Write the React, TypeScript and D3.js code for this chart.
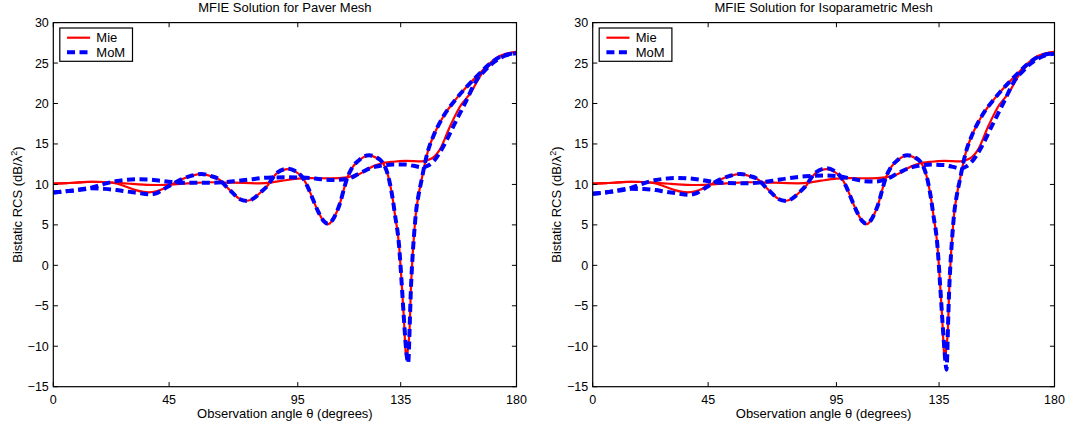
import React from 'react';
import * as d3 from 'd3';

type Pt = [number, number];

const THETA_TICKS = [0, 45, 95, 135, 180];
const RCS_TICKS = [-15, -10, -5, 0, 5, 10, 15, 20, 25, 30];
const PANEL_TITLES = ['MFIE Solution for Paver Mesh', 'MFIE Solution for Isoparametric Mesh'];
const SERIES_NAMES = ['Mie', 'MoM'];
const X_LABEL = 'Observation angle \u03b8 (degrees)';

// Mie (exact) solution — identical in both panels
const mieOsc: Pt[] = [
  [0, 10.1], [5, 10.15], [10, 10.25], [15, 10.33], [20, 10.3], [24, 10.15], [28, 9.75], [32, 9.3], [35, 9.08], [37, 9.02],
  [40, 9.15], [43, 9.5], [46.6, 10.1], [50, 10.65], [54, 11.1], [57.5, 11.28], [61, 11.05], [64.8, 10.54], [67, 9.8],
  [69.9, 8.9], [72, 8.3], [75.5, 7.98], [78, 8.3], [80.5, 9.0], [82.9, 9.71], [86.8, 11.37], [91.3, 11.9], [94, 11.6],
  [97.1, 10.75], [99, 9.6], [101, 8.07], [103, 6.6], [105, 5.5], [106.8, 5.1], [108.5, 5.6], [110, 6.5], [111.4, 7.66],
  [113, 9.5], [114, 10.6], [116, 12.0], [119, 13.0], [121, 13.45], [122.7, 13.55], [125.5, 13.3], [128.2, 12.6],
  [130, 11.2], [130.8, 10.13], [132, 8.0], [132.7, 6.42], [134.4, 2.3], [135.3, -1.82], [136.2, -6.35], [137.0, -11.0],
  [137.3, -11.5], [137.9, -10.0], [138.45, -8.0], [138.9, -3.5], [139.5, 0.5], [140.2, 3.8], [140.9, 6.42], [142, 8.8],
  [143.1, 10.54], [144.4, 12.6], [145.7, 14.25], [147.6, 15.9], [151.5, 18.37], [156.7, 20.63], [161.9, 22.5],
  [165.7, 23.73], [169.6, 24.97], [173.5, 25.87], [176.5, 26.2], [180, 26.4],
];
const mieSmooth: Pt[] = [
  [0, 10.1], [5, 10.15], [10, 10.25], [15, 10.33], [20, 10.3], [25, 10.2], [30, 10.08], [35, 9.98], [40, 9.93], [45, 9.98],
  [50, 10.08], [55, 10.2], [61, 10.27], [70, 10.22], [80, 10.13], [85, 10.25], [89, 10.46], [95, 10.72], [100, 10.78],
  [108, 10.75], [114, 10.87], [119, 11.3], [124, 12.2], [127, 12.55], [132, 12.8], [137, 12.9], [143, 12.85], [147, 13.2],
  [150.2, 14.3], [154.1, 17.13], [158, 19.6], [162.5, 21.46], [165.7, 23.3], [169.6, 24.76], [173, 25.7], [176.5, 26.15],
  [180, 26.4],
];

// MoM, paver mesh
const paverMomOsc: Pt[] = [
  [0, 9.0], [7, 9.22], [14, 9.52], [20, 9.45], [24.6, 9.31], [28, 9.15], [32.4, 8.97], [37.6, 8.77], [40, 8.9], [42.7, 9.39],
  [46.6, 10.1], [50, 10.65], [54, 11.1], [57.5, 11.3], [61, 11.05], [64.8, 10.54], [67, 9.8], [69.9, 8.9], [72, 8.25],
  [75.5, 7.95], [78, 8.3], [80.5, 9.0], [82.9, 9.71], [86.8, 11.4], [91.3, 11.95], [94, 11.65], [97.1, 10.75], [99, 9.6],
  [101, 8.07], [103, 6.6], [105, 5.5], [106.8, 5.15], [108.5, 5.6], [110, 6.5], [111.4, 7.66], [113, 9.5], [114, 10.6],
  [116, 12.0], [119, 13.05], [121, 13.5], [122.7, 13.6], [125.5, 13.35], [128.2, 12.6], [130, 11.2], [130.8, 10.13],
  [132, 8.0], [132.7, 6.42], [134.4, 2.3], [135.3, -1.82], [136.2, -6.35], [137.0, -10.0], [137.5, -11.5], [137.9, -12.1],
  [138.2, -10.5], [138.45, -8.0], [138.9, -3.5], [139.5, 0.5], [140.2, 3.8], [140.9, 6.42], [142, 8.8], [143.1, 10.54],
  [144.4, 12.6], [145.7, 14.25], [147.6, 15.9], [151.5, 18.37], [156.7, 20.63], [161.9, 22.5], [165.7, 23.73],
  [169.6, 24.9], [173.5, 25.75], [176.5, 26.05], [180, 26.25],
];
const paverMomSmooth: Pt[] = [
  [0, 9.0], [7, 9.22], [14, 9.52], [19, 10.0], [24.6, 10.42], [28, 10.55], [32.4, 10.63], [37, 10.6], [41.4, 10.46],
  [46, 10.3], [50.5, 10.21], [57, 10.22], [61, 10.21], [70, 10.38], [76, 10.6], [82.9, 10.83], [90, 10.88], [98.4, 10.83],
  [104, 10.65], [108.8, 10.54], [114, 10.67], [119.1, 11.37], [124, 12.1], [127, 12.3], [132, 12.45], [137, 12.45],
  [140, 12.3], [143.7, 12.1], [145.5, 12.3], [147.6, 12.8], [151.5, 14.66], [155.4, 17.13], [160.6, 20.43], [164.5, 22.9],
  [167.5, 24.0], [170, 24.8], [173, 25.5], [176.5, 26.0], [180, 26.2],
];

// MoM, isoparametric mesh
const isoMomOsc: Pt[] = [
  [0, 8.85], [7, 9.1], [14, 9.45], [20, 9.42], [24.6, 9.3], [28, 9.12], [32.4, 8.92], [37.6, 8.72], [40, 8.85], [42.7, 9.35],
  [46.6, 10.1], [50, 10.65], [54, 11.1], [57.5, 11.3], [61, 11.05], [64.8, 10.54], [67, 9.8], [69.9, 8.9], [72, 8.25],
  [75.5, 7.95], [78, 8.3], [80.5, 9.0], [82.9, 9.75], [86.8, 11.45], [91.3, 12.0], [94, 11.7], [97.1, 10.75], [99, 9.6],
  [101, 8.07], [103, 6.6], [105, 5.5], [106.8, 5.15], [108.5, 5.6], [110, 6.5], [111.4, 7.66], [113, 9.5], [114, 10.6],
  [116, 12.0], [119, 13.05], [121, 13.5], [122.7, 13.6], [125.5, 13.35], [128.2, 12.6], [130, 11.2], [130.8, 10.13],
  [132, 8.0], [132.7, 6.42], [134.4, 2.3], [135.3, -1.82], [136.2, -6.35], [137.0, -10.0], [137.5, -12.0], [137.9, -12.9],
  [138.2, -11.0], [138.45, -8.0], [138.9, -3.5], [139.5, 0.5], [140.2, 3.8], [140.9, 6.42], [142, 8.8], [143.1, 10.54],
  [144.4, 12.6], [145.7, 14.25], [147.6, 15.9], [151.5, 18.37], [156.7, 20.63], [161.9, 22.5], [165.7, 23.73],
  [169.6, 24.9], [173.5, 25.75], [176.5, 26.05], [180, 26.2],
];
const isoMomSmooth: Pt[] = [
  [0, 8.85], [7, 9.1], [14, 9.45], [19, 10.05], [24.6, 10.55], [28, 10.7], [32.4, 10.8], [37, 10.75], [41.4, 10.6],
  [46, 10.35], [50.5, 10.2], [57, 10.15], [61, 10.15], [70, 10.45], [76, 10.75], [82.9, 11.0], [90, 11.1], [96, 11.0],
  [101, 10.7], [106, 10.4], [110, 10.35], [114, 10.6], [119.1, 11.4], [124, 12.1], [127, 12.3], [132, 12.45], [137, 12.4],
  [140, 12.2], [143.7, 11.95], [145.5, 12.2], [147.6, 12.75], [151.5, 14.6], [155.4, 17.1], [160.6, 20.4], [164.5, 22.85],
  [167.5, 23.95], [170, 24.75], [173, 25.45], [176.5, 25.95], [180, 26.15],
];

const PANEL_MIE = [[mieOsc, mieSmooth], [mieOsc, mieSmooth]];
const PANEL_MOM = [[paverMomOsc, paverMomSmooth], [isoMomOsc, isoMomSmooth]];

const W = 1073;
const H = 429;
const PLOT_TOP = 22.6;
const PLOT_BOTTOM = 386.7;
const PANEL_X: [number, number][] = [[53.3, 516.5], [592.7, 1054.5]];
const FONT = '"Liberation Sans", Arial, Helvetica, sans-serif';
const TICK_LEN = 4.6;
const RED = '#ff0000';
const BLUE = '#0000ff';
const DASH = '8,4.5';

function fmt(v: number) {
  return v < 0 ? '\u2212' + Math.abs(v) : String(v);
}

function Panel({ idx }: { idx: number }) {
  const [x0, x1] = PANEL_X[idx];
  const x = d3.scaleLinear().domain([0, 180]).range([x0, x1]);
  const y = d3.scaleLinear().domain([-15, 30]).range([PLOT_BOTTOM, PLOT_TOP]);
  const line = d3
    .line<Pt>()
    .x((d) => x(d[0]))
    .y((d) => y(d[1]))
    .curve(d3.curveMonotoneX);
  const cx = (x0 + x1) / 2;
  const cy = (PLOT_TOP + PLOT_BOTTOM) / 2;
  const lx = x0 + 6.5;
  const ly = 28;
  return (
    <g>
      <rect x={x0} y={PLOT_TOP} width={x1 - x0} height={PLOT_BOTTOM - PLOT_TOP} fill="#fff" />
      {PANEL_MIE[idx].map((s, i) => (
        <path key={'mie' + i} d={line(s) || ''} fill="none" stroke={RED} strokeWidth={2.2} strokeLinejoin="round" />
      ))}
      {PANEL_MOM[idx].map((s, i) => (
        <path key={'mom' + i} d={line(s) || ''} fill="none" stroke={BLUE} strokeWidth={4} strokeDasharray={DASH} />
      ))}
      <rect x={x0} y={PLOT_TOP} width={x1 - x0} height={PLOT_BOTTOM - PLOT_TOP} fill="none" stroke="#000" strokeWidth={1.2} />
      {THETA_TICKS.map((t) => (
        <g key={'xt' + t}>
          <line x1={x(t)} x2={x(t)} y1={PLOT_BOTTOM} y2={PLOT_BOTTOM - TICK_LEN} stroke="#000" strokeWidth={1} />
          <line x1={x(t)} x2={x(t)} y1={PLOT_TOP} y2={PLOT_TOP + TICK_LEN} stroke="#000" strokeWidth={1} />
          <text x={x(t)} y={PLOT_BOTTOM + 17.5} textAnchor="middle" fontSize={12.5} fontFamily={FONT} fill="#000">
            {fmt(t)}
          </text>
        </g>
      ))}
      {RCS_TICKS.map((v) => (
        <g key={'yt' + v}>
          <line x1={x0} x2={x0 + TICK_LEN} y1={y(v)} y2={y(v)} stroke="#000" strokeWidth={1} />
          <line x1={x1} x2={x1 - TICK_LEN} y1={y(v)} y2={y(v)} stroke="#000" strokeWidth={1} />
          <text x={x0 - 4.5} y={y(v)} dy="0.36em" textAnchor="end" fontSize={12.5} fontFamily={FONT} fill="#000">
            {fmt(v)}
          </text>
        </g>
      ))}
      <text x={cx} y={12} textAnchor="middle" fontSize={13} fontFamily={FONT} fill="#000">
        {PANEL_TITLES[idx]}
      </text>
      <text x={cx} y={PLOT_BOTTOM + 31.5} textAnchor="middle" fontSize={13} fontFamily={FONT} fill="#000">
        {X_LABEL}
      </text>
      <text
        transform={`translate(${x0 - 31.5},${cy}) rotate(-90)`}
        textAnchor="middle"
        fontSize={13}
        fontFamily={FONT}
        fill="#000"
      >
        Bistatic RCS (dB/{'\u03bb'}
        <tspan dy={-5} fontSize={9}>2</tspan>
        <tspan dy={5}>)</tspan>
      </text>
      <g>
        <rect x={lx} y={ly} width={72.7} height={33.3} fill="#fff" stroke="#000" strokeWidth={1.2} />
        <line x1={lx + 7.2} x2={lx + 30.3} y1={ly + 9.7} y2={ly + 9.7} stroke={RED} strokeWidth={2.2} />
        <line x1={lx + 7.2} x2={lx + 30.3} y1={ly + 24.3} y2={ly + 24.3} stroke={BLUE} strokeWidth={4} strokeDasharray={DASH} />
        <text x={lx + 36.5} y={ly + 14} fontSize={13} fontFamily={FONT} fill="#000">
          {SERIES_NAMES[0]}
        </text>
        <text x={lx + 36.5} y={ly + 28.6} fontSize={13} fontFamily={FONT} fill="#000">
          {SERIES_NAMES[1]}
        </text>
      </g>
    </g>
  );
}

export default function App() {
  return (
    <svg
      width={W}
      height={H}
      viewBox={`0 0 ${W} ${H}`}
      style={{ position: 'absolute', left: 0, top: 0, background: '#fff' }}
    >
      <rect x={0} y={0} width={W} height={H} fill="#fff" />
      <Panel idx={0} />
      <Panel idx={1} />
    </svg>
  );
}
